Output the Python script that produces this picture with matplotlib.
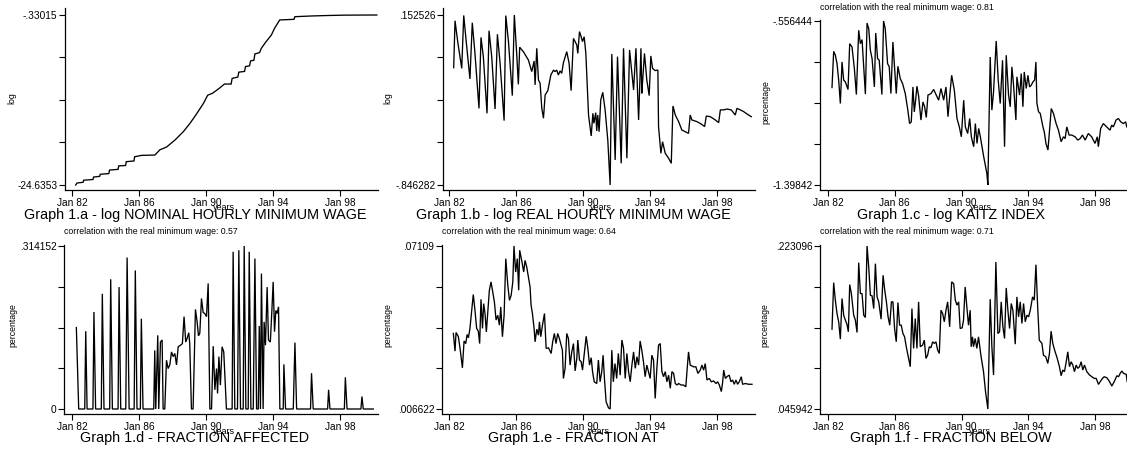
import numpy as np
import matplotlib
matplotlib.use("Agg")
import matplotlib.pyplot as plt

plt.rcParams['font.family'] = ['Liberation Sans', 'DejaVu Sans']

# ---------------- data ----------------
a_years = [1982.22, 1982.30, 1982.66, 1982.70, 1983.25, 1983.29, 1983.65, 1983.69, 1984.20, 1984.24,
           1984.75, 1984.79, 1985.20, 1985.24, 1985.70, 1985.74, 1986.15, 1986.95, 1987.25, 1987.65,
           1988.15, 1988.65, 1989.05, 1989.40, 1989.85, 1990.10, 1990.40, 1990.80, 1991.10, 1991.50,
           1991.56, 1991.90, 1991.96, 1992.30, 1992.36, 1992.60, 1992.66, 1992.86, 1992.92, 1993.20,
           1993.30, 1993.60, 1993.90, 1994.10, 1994.40, 1995.25, 1995.31, 1996.30, 1997.30, 1998.30, 2000.20]
a_vals = [-24.6353, -24.35, -24.25, -23.95, -23.85, -23.5, -23.4, -23.1, -23.0, -22.5,
          -22.4, -21.9, -21.85, -21.3, -21.2, -20.6, -20.4, -20.35, -19.6, -19.2,
          -18.2, -17.0, -15.8, -14.6, -12.96, -11.8, -11.5, -10.8, -10.2, -10.2,
          -9.4, -9.2, -8.5, -8.4, -7.7, -7.6, -6.9, -6.8, -5.9, -5.7,
          -5.1, -4.1, -3.2, -2.2, -1.04, -0.95, -0.57, -0.47, -0.40, -0.35, -0.33015]

b_years = [1982.28, 1982.36, 1982.52, 1982.76, 1982.88, 1983.00, 1983.25, 1983.39, 1983.55, 1983.79,
           1983.91, 1984.05, 1984.27, 1984.39, 1984.55, 1984.75, 1984.89, 1985.05, 1985.29, 1985.39,
           1985.55, 1985.78, 1985.90, 1986.04, 1986.14, 1986.22, 1986.44, 1986.74, 1986.94, 1987.08,
           1987.14, 1987.24, 1987.34, 1987.44, 1987.54, 1987.64, 1987.74, 1987.90, 1988.08, 1988.24,
           1988.33, 1988.43, 1988.53, 1988.63, 1988.73, 1988.83, 1989.03, 1989.17, 1989.29, 1989.43,
           1989.53, 1989.63, 1989.69, 1989.79, 1989.89, 1989.97, 1990.07, 1990.17, 1990.33, 1990.49,
           1990.59, 1990.65, 1990.76, 1990.82, 1990.88, 1990.96, 1991.06, 1991.18, 1991.32, 1991.48,
           1991.62, 1991.72, 1991.92, 1992.06, 1992.28, 1992.42, 1992.62, 1992.78, 1993.02, 1993.16,
           1993.32, 1993.46, 1993.51, 1993.57, 1993.67, 1993.81, 1993.95, 1994.05, 1994.15, 1994.31,
           1994.47, 1994.51, 1994.65, 1994.75, 1994.91, 1995.11, 1995.27, 1995.37, 1995.51, 1995.71,
           1995.90, 1996.10, 1996.30, 1996.40, 1996.50, 1996.80, 1997.06, 1997.26, 1997.36, 1997.60,
           1997.90, 1998.10, 1998.20, 1998.40, 1998.59, 1998.85, 1999.09, 1999.19, 1999.39, 1999.59,
           1999.79, 2000.05]
b_vals = [-0.157, 0.119, -0.004, -0.161, 0.150, 0.025, -0.223, 0.107, -0.073, -0.396,
          0.021, -0.092, -0.425, 0.060, -0.092, -0.400, 0.039, -0.131, -0.468, 0.149,
          -0.004, -0.321, 0.152526, -0.073, -0.255, -0.037, -0.063, -0.112, -0.180, -0.118,
          -0.258, -0.043, -0.229, -0.249, -0.396, -0.454, -0.317, -0.292, -0.200, -0.171,
          -0.180, -0.171, -0.200, -0.176, -0.190, -0.128, -0.063, -0.131, -0.292, 0.015,
          -0.004, -0.024, -0.073, 0.055, 0.025, -0.004, 0.025, -0.073, -0.435, -0.558,
          -0.425, -0.484, -0.421, -0.529, -0.435, -0.533, -0.347, -0.302, -0.405, -0.582,
          -0.846282, -0.077, -0.699, -0.092, -0.719, -0.043, -0.689, -0.053, -0.288, -0.043,
          -0.464, -0.043, -0.308, -0.219, -0.073, -0.229, -0.321, -0.088, -0.161, -0.174,
          -0.171, -0.503, -0.660, -0.592, -0.660, -0.689, -0.719, -0.382, -0.435, -0.474,
          -0.523, -0.533, -0.543, -0.435, -0.464, -0.474, -0.488, -0.503, -0.441, -0.445,
          -0.464, -0.480, -0.405, -0.405, -0.400, -0.405, -0.435, -0.396, -0.405, -0.415,
          -0.429, -0.445]

c_years = [1982.24, 1982.34, 1982.44, 1982.54, 1982.64, 1982.74, 1982.84, 1982.94, 1983.04, 1983.20,
           1983.30, 1983.44, 1983.58, 1983.70, 1983.84, 1983.94, 1984.04, 1984.14, 1984.24, 1984.34,
           1984.44, 1984.54, 1984.64, 1984.78, 1984.86, 1984.97, 1985.07, 1985.23, 1985.33, 1985.43,
           1985.57, 1985.67, 1985.77, 1985.89, 1985.97, 1986.09, 1986.19, 1986.33, 1986.47, 1986.63,
           1986.77, 1986.89, 1986.99, 1987.09, 1987.17, 1987.25, 1987.33, 1987.43, 1987.57, 1987.69,
           1987.79, 1987.89, 1987.99, 1988.17, 1988.33, 1988.49, 1988.63, 1988.77, 1988.93, 1989.07,
           1989.19, 1989.29, 1989.41, 1989.57, 1989.73, 1989.87, 1989.99, 1990.13, 1990.23, 1990.37,
           1990.49, 1990.59, 1990.73, 1990.83, 1990.93, 1991.03, 1991.13, 1991.33, 1991.52, 1991.58,
           1991.72, 1991.82, 1991.92, 1992.08, 1992.20, 1992.32, 1992.46, 1992.58, 1992.68, 1992.82,
           1992.92, 1993.02, 1993.12, 1993.26, 1993.32, 1993.48, 1993.58, 1993.68, 1993.76, 1993.88,
           1993.98, 1994.08, 1994.18, 1994.28, 1994.38, 1994.46, 1994.52, 1994.62, 1994.72, 1994.88,
           1994.96, 1995.06, 1995.18, 1995.28, 1995.38, 1995.51, 1995.67, 1995.81, 1995.97, 1996.11,
           1996.21, 1996.31, 1996.45, 1996.61, 1996.81, 1996.97, 1997.11, 1997.25, 1997.41, 1997.60,
           1997.80, 1998.00, 1998.14, 1998.20, 1998.34, 1998.50, 1998.70, 1998.90, 1999.00, 1999.10,
           1999.26, 1999.40, 1999.54, 1999.70, 1999.84, 1999.90]
c_vals = [-0.898, -0.712, -0.732, -0.775, -0.860, -0.980, -0.767, -0.860, -0.869, -0.908,
          -0.673, -0.690, -0.801, -0.934, -0.604, -0.673, -0.652, -0.792, -0.932, -0.567,
          -0.596, -0.707, -0.749, -0.895, -0.618, -0.749, -0.758, -0.934, -0.556444, -0.596,
          -0.775, -0.792, -0.929, -0.664, -0.767, -0.929, -0.789, -0.852, -0.878, -0.929,
          -1.006, -1.083, -1.074, -0.895, -1.023, -0.963, -0.891, -0.942, -1.065, -0.972,
          -0.997, -1.052, -0.937, -0.929, -0.908, -0.937, -0.963, -0.903, -0.963, -0.895,
          -1.048, -0.946, -0.835, -0.912, -1.057, -1.100, -1.151, -0.963, -1.100, -1.134,
          -1.057, -1.151, -1.202, -1.083, -1.185, -1.108, -1.151, -1.253, -1.339, -1.39842,
          -0.741, -1.014, -0.920, -0.659, -0.860, -0.980, -0.758, -1.202, -0.732, -0.937,
          -0.997, -0.792, -0.886, -1.065, -0.843, -0.937, -0.826, -0.997, -0.818, -0.903,
          -0.835, -0.895, -0.886, -0.869, -0.860, -0.767, -0.980, -1.023, -1.031, -1.100,
          -1.125, -1.185, -1.219, -1.113, -1.006, -1.031, -1.083, -1.117, -1.176, -1.151,
          -1.160, -1.100, -1.142, -1.142, -1.151, -1.168, -1.160, -1.142, -1.168, -1.134,
          -1.151, -1.185, -1.151, -1.202, -1.108, -1.083, -1.100, -1.117, -1.091, -1.100,
          -1.065, -1.057, -1.074, -1.083, -1.074, -1.100]

d_years = [1982.26, 1982.40, 1982.76, 1982.82, 1982.90, 1983.25, 1983.31, 1983.41, 1983.75, 1983.81,
           1983.91, 1984.25, 1984.31, 1984.41, 1984.75, 1984.81, 1984.91, 1985.21, 1985.29, 1985.41,
           1985.71, 1985.78, 1985.88, 1986.08, 1986.14, 1986.24, 1986.88, 1986.94, 1987.00, 1987.12,
           1987.18, 1987.28, 1987.38, 1987.44, 1987.54, 1987.64, 1987.74, 1987.84, 1987.94, 1988.04,
           1988.14, 1988.24, 1988.34, 1988.48, 1988.59, 1988.69, 1988.79, 1988.87, 1988.97, 1989.03,
           1989.13, 1989.23, 1989.37, 1989.47, 1989.55, 1989.63, 1989.73, 1989.83, 1989.93, 1990.03,
           1990.13, 1990.23, 1990.33, 1990.43, 1990.53, 1990.63, 1990.69, 1990.77, 1990.86, 1990.96,
           1991.06, 1991.22, 1991.56, 1991.62, 1991.72, 1991.88, 1991.96, 1992.06, 1992.22, 1992.28,
           1992.38, 1992.52, 1992.58, 1992.68, 1992.82, 1992.92, 1993.02, 1993.12, 1993.18, 1993.25,
           1993.31, 1993.41, 1993.47, 1993.55, 1993.65, 1993.73, 1993.84, 1993.92, 1994.01, 1994.09,
           1994.17, 1994.25, 1994.33, 1994.41, 1994.61, 1994.65, 1994.75, 1995.21, 1995.31, 1995.41,
           1996.24, 1996.30, 1996.40, 1997.26, 1997.32, 1997.40, 1998.26, 1998.32, 1998.42, 1999.25,
           1999.31, 1999.39, 1999.99]
d_vals = [0.157, 0, 0, 0.150, 0, 0, 0.187, 0, 0, 0.222,
          0, 0, 0.250, 0, 0, 0.235, 0, 0, 0.292, 0,
          0, 0.267, 0, 0, 0.174, 0, 0, 0.113, 0, 0.142,
          0, 0.129, 0.133, 0, 0, 0.094, 0.078, 0.085, 0.110, 0.101,
          0.107, 0.085, 0.120, 0.123, 0.126, 0.178, 0.129, 0.136, 0.147, 0.126,
          0, 0, 0.192, 0.168, 0.141, 0.146, 0.213, 0.186, 0.184, 0.178,
          0.242, 0, 0, 0.121, 0.037, 0.078, 0.030, 0.101, 0.046, 0.120,
          0.110, 0, 0, 0.303, 0, 0, 0.306, 0, 0, 0.314152,
          0, 0, 0.303, 0, 0, 0.290, 0, 0, 0.160, 0,
          0.261, 0, 0.168, 0.123, 0.235, 0.133, 0.129, 0.181, 0.245, 0.149,
          0.190, 0.184, 0.197, 0, 0, 0.086, 0, 0, 0.128, 0,
          0, 0.069, 0, 0, 0.037, 0, 0, 0.061, 0, 0,
          0.024, 0, 0]

e_years = [1982.26, 1982.36, 1982.42, 1982.56, 1982.66, 1982.80, 1982.90, 1983.00, 1983.08, 1983.16,
           1983.25, 1983.35, 1983.45, 1983.55, 1983.65, 1983.75, 1983.83, 1983.91, 1984.00, 1984.07,
           1984.15, 1984.23, 1984.33, 1984.41, 1984.51, 1984.61, 1984.71, 1984.81, 1984.91, 1985.01,
           1985.09, 1985.19, 1985.29, 1985.39, 1985.51, 1985.61, 1985.71, 1985.81, 1985.88, 1985.98,
           1986.08, 1986.16, 1986.22, 1986.34, 1986.46, 1986.54, 1986.64, 1986.74, 1986.84, 1986.90,
           1986.98, 1987.08, 1987.14, 1987.24, 1987.34, 1987.40, 1987.48, 1987.58, 1987.70, 1987.80,
           1987.94, 1988.10, 1988.19, 1988.29, 1988.39, 1988.49, 1988.59, 1988.67, 1988.77, 1988.83,
           1988.93, 1989.03, 1989.13, 1989.23, 1989.33, 1989.43, 1989.53, 1989.63, 1989.69, 1989.79,
           1989.89, 1989.97, 1990.09, 1990.19, 1990.29, 1990.39, 1990.49, 1990.57, 1990.67, 1990.82,
           1990.92, 1991.02, 1991.12, 1991.20, 1991.28, 1991.38, 1991.52, 1991.62, 1991.72, 1991.81,
           1991.91, 1992.01, 1992.11, 1992.22, 1992.32, 1992.42, 1992.52, 1992.62, 1992.72, 1992.82,
           1992.92, 1993.02, 1993.12, 1993.22, 1993.32, 1993.41, 1993.51, 1993.61, 1993.71, 1993.81,
           1993.91, 1994.01, 1994.11, 1994.21, 1994.31, 1994.41, 1994.51, 1994.61, 1994.71, 1994.81,
           1994.91, 1995.01, 1995.11, 1995.21, 1995.31, 1995.41, 1995.51, 1995.61, 1995.71, 1995.86,
           1996.00, 1996.14, 1996.22, 1996.30, 1996.40, 1996.60, 1996.74, 1996.86, 1997.00, 1997.10,
           1997.20, 1997.30, 1997.40, 1997.54, 1997.66, 1997.80, 1997.94, 1998.04, 1998.14, 1998.26,
           1998.34, 1998.40, 1998.50, 1998.59, 1998.73, 1998.83, 1998.93, 1999.03, 1999.13, 1999.23,
           1999.33, 1999.45, 1999.53, 1999.69, 1999.89, 2000.09]
e_vals = [0.0365, 0.0295, 0.0369, 0.0352, 0.0306, 0.0229, 0.0335, 0.0325, 0.0361, 0.0348,
          0.0385, 0.0450, 0.0519, 0.0457, 0.0385, 0.0374, 0.0325, 0.0500, 0.0385, 0.0483,
          0.0444, 0.0371, 0.0464, 0.0536, 0.0569, 0.0529, 0.0490, 0.0418, 0.0437, 0.0398,
          0.0470, 0.0352, 0.0437, 0.0661, 0.0556, 0.0496, 0.0516, 0.0569, 0.07109, 0.0608,
          0.0661, 0.0536, 0.0694, 0.0654, 0.0608, 0.0654, 0.0628, 0.0589, 0.0549, 0.0477,
          0.0444, 0.0385, 0.0332, 0.0382, 0.0358, 0.0411, 0.0352, 0.0398, 0.0444, 0.0306,
          0.0308, 0.0286, 0.0332, 0.0365, 0.0325, 0.0365, 0.0345, 0.0325, 0.0299, 0.0187,
          0.0227, 0.0365, 0.0345, 0.0240, 0.0292, 0.0325, 0.0217, 0.0266, 0.0339, 0.0260,
          0.0253, 0.0220, 0.0292, 0.0354, 0.0306, 0.0240, 0.0269, 0.0214, 0.0174, 0.0167,
          0.0260, 0.0174, 0.0214, 0.0279, 0.0187, 0.0095, 0.0071, 0.006622, 0.0299, 0.0174,
          0.0246, 0.0187, 0.0286, 0.0200, 0.0339, 0.0306, 0.0187, 0.0286, 0.0214, 0.0174,
          0.0240, 0.0292, 0.0227, 0.0273, 0.0240, 0.0335, 0.0299, 0.0253, 0.0194, 0.0240,
          0.0214, 0.0187, 0.0279, 0.0260, 0.0108, 0.0227, 0.0319, 0.0325, 0.0214, 0.0194,
          0.0214, 0.0174, 0.0200, 0.0148, 0.0214, 0.0207, 0.0167, 0.0161, 0.0167, 0.0161,
          0.0161, 0.0154, 0.0227, 0.0292, 0.0240, 0.0233, 0.0233, 0.0207, 0.0220, 0.0240,
          0.0220, 0.0246, 0.0181, 0.0187, 0.0174, 0.0177, 0.0167, 0.0174, 0.0161, 0.0135,
          0.0174, 0.0220, 0.0187, 0.0194, 0.0200, 0.0174, 0.0181, 0.0164, 0.0181, 0.0164,
          0.0174, 0.0194, 0.0164, 0.0167, 0.0164, 0.0164]

f_years = [1982.24, 1982.34, 1982.44, 1982.54, 1982.64, 1982.74, 1982.84, 1982.94, 1983.04, 1983.14,
           1983.22, 1983.30, 1983.40, 1983.54, 1983.64, 1983.74, 1983.84, 1983.94, 1984.04, 1984.14,
           1984.24, 1984.34, 1984.44, 1984.54, 1984.64, 1984.74, 1984.84, 1984.94, 1985.04, 1985.18,
           1985.30, 1985.40, 1985.50, 1985.60, 1985.70, 1985.80, 1985.89, 1985.99, 1986.09, 1986.19,
           1986.29, 1986.39, 1986.49, 1986.59, 1986.69, 1986.83, 1986.93, 1987.03, 1987.13, 1987.23,
           1987.33, 1987.43, 1987.53, 1987.67, 1987.77, 1987.87, 1987.97, 1988.07, 1988.17, 1988.27,
           1988.37, 1988.47, 1988.57, 1988.67, 1988.77, 1988.87, 1988.97, 1989.07, 1989.17, 1989.29,
           1989.41, 1989.53, 1989.63, 1989.73, 1989.83, 1989.92, 1990.04, 1990.12, 1990.22, 1990.32,
           1990.42, 1990.52, 1990.58, 1990.66, 1990.72, 1990.82, 1990.92, 1991.02, 1991.16, 1991.32,
           1991.44, 1991.58, 1991.72, 1991.82, 1991.92, 1992.06, 1992.18, 1992.28, 1992.38, 1992.48,
           1992.58, 1992.68, 1992.78, 1992.88, 1992.98, 1993.08, 1993.22, 1993.32, 1993.42, 1993.52,
           1993.62, 1993.72, 1993.82, 1993.92, 1994.02, 1994.12, 1994.26, 1994.36, 1994.46, 1994.56,
           1994.66, 1994.82, 1994.91, 1995.05, 1995.17, 1995.27, 1995.37, 1995.47, 1995.61, 1995.71,
           1995.87, 1995.97, 1996.07, 1996.17, 1996.27, 1996.37, 1996.47, 1996.57, 1996.67, 1996.77,
           1996.87, 1996.97, 1997.07, 1997.17, 1997.27, 1997.37, 1997.51, 1997.67, 1997.81, 1997.95,
           1998.07, 1998.21, 1998.31, 1998.45, 1998.55, 1998.71, 1998.85, 1999.01, 1999.15, 1999.31,
           1999.41, 1999.51, 1999.61, 1999.71, 1999.87, 1999.93]
f_vals = [0.1327, 0.1833, 0.1642, 0.1497, 0.1407, 0.1219, 0.1660, 0.1479, 0.1425, 0.1378,
          0.1298, 0.1812, 0.1714, 0.1479, 0.1425, 0.1291, 0.2050, 0.1714, 0.1714, 0.1479,
          0.1454, 0.223096, 0.2003, 0.1696, 0.1689, 0.1551, 0.2039, 0.1678, 0.1624, 0.1436,
          0.1913, 0.1750, 0.1624, 0.1461, 0.1370, 0.1624, 0.1624, 0.1334, 0.1190, 0.1617,
          0.1370, 0.1370, 0.1280, 0.1244, 0.1136, 0.1009, 0.0919, 0.1551, 0.1118, 0.1443,
          0.1118, 0.1624, 0.1136, 0.1154, 0.1208, 0.1009, 0.1045, 0.1136, 0.1125, 0.1190,
          0.1172, 0.1190, 0.1100, 0.1063, 0.1533, 0.1497, 0.1407, 0.1533, 0.1624, 0.1353,
          0.1841, 0.1822, 0.1642, 0.1588, 0.1624, 0.1334, 0.1342, 0.1425, 0.1786, 0.1569,
          0.1370, 0.1533, 0.1136, 0.1244, 0.1136, 0.1226, 0.1118, 0.1244, 0.1045, 0.0864,
          0.0648, 0.045942, 0.1653, 0.1136, 0.0828, 0.2057, 0.1280, 0.1298, 0.1624, 0.1353,
          0.1226, 0.1775, 0.1533, 0.1334, 0.1606, 0.1533, 0.1164, 0.1678, 0.1461, 0.1624,
          0.1389, 0.1606, 0.1407, 0.1479, 0.1461, 0.1533, 0.1678, 0.1642, 0.2028, 0.1588,
          0.1208, 0.1172, 0.1045, 0.1027, 0.0955, 0.1063, 0.1305, 0.1172, 0.1081, 0.1027,
          0.0919, 0.0821, 0.0883, 0.0865, 0.0966, 0.1081, 0.0919, 0.0973, 0.0937, 0.0865,
          0.0937, 0.0901, 0.0919, 0.0973, 0.0883, 0.0937, 0.0865, 0.0829, 0.0810, 0.0792,
          0.0792, 0.0727, 0.0756, 0.0792, 0.0810, 0.0799, 0.0763, 0.0709, 0.0756, 0.0821,
          0.0810, 0.0847, 0.0872, 0.0847, 0.0836, 0.0756]

# axis labels (Stata shows min and max only)
a_ticks = [-24.6353, -0.33015]; a_ticklabels = ["-24.6353", "-.33015"]
b_ticks = [-0.846282, 0.152526]; b_ticklabels = ["-.846282", ".152526"]
c_ticks = [-1.39842, -0.556444]; c_ticklabels = ["-1.39842", "-.556444"]
d_ticks = [0.0, 0.314152]; d_ticklabels = ["0", ".314152"]
e_ticks = [0.006622, 0.07109]; e_ticklabels = [".006622", ".07109"]
f_ticks = [0.045942, 0.223096]; f_ticklabels = [".045942", ".223096"]

x_ticks = [1982, 1986, 1990, 1994, 1998]
x_ticklabels = ["Jan 82", "Jan 86", "Jan 90", "Jan 94", "Jan 98"]

titles = ["Graph 1.a - log NOMINAL HOURLY MINIMUM WAGE",
          "Graph 1.b - log REAL HOURLY MINIMUM WAGE",
          "Graph 1.c - log KAITZ INDEX",
          "Graph 1.d - FRACTION AFFECTED",
          "Graph 1.e - FRACTION AT",
          "Graph 1.f - FRACTION BELOW"]
ylabels = ["log", "log", "percentage", "percentage", "percentage", "percentage"]
subtitles = [None, None,
             "correlation with the real minimum wage: 0.81",
             "correlation with the real minimum wage: 0.57",
             "correlation with the real minimum wage: 0.64",
             "correlation with the real minimum wage: 0.71"]

# ---------------- layout (pixels) ----------------
W, H = 1127, 453
fig = plt.figure(figsize=(W / 100, H / 100), dpi=100)
fig.patch.set_facecolor("white")

# l, r, top, bottom of axes; pixel x of Jan82 / Jan98; pixel y of top/bottom y-tick
layout = [
    dict(l=65, r=378, t=8, b=190, j82=72, j98=340, tt=15, tb=185, ylx=12, yly=98, tx=195, ty=215, yx=224, yy=208, sy=None),
    dict(l=443, r=755, t=8, b=190, j82=449, j98=717, tt=15, tb=185, ylx=388, yly=98, tx=573, ty=215, yx=601, yy=208, sy=None),
    dict(l=820, r=1127, t=20, b=190, j82=828, j98=1095, tt=21, tb=185, ylx=766, yly=102, tx=951, ty=215, yx=981, yy=208, sy=8),
    dict(l=64, r=378, t=245, b=414, j82=72, j98=340, tt=246, tb=409, ylx=13, yly=325, tx=195, ty=438, yx=224, yy=431, sy=232),
    dict(l=442, r=755, t=245, b=414, j82=449, j98=717, tt=246, tb=409, ylx=388, yly=325, tx=573, ty=438, yx=599, yy=431, sy=232),
    dict(l=820, r=1127, t=245, b=414, j82=828, j98=1095, tt=246, tb=409, ylx=765, yly=325, tx=951, ty=438, yx=980, yy=431, sy=232),
]

series = [(a_years, a_vals, a_ticks, a_ticklabels),
          (b_years, b_vals, b_ticks, b_ticklabels),
          (c_years, c_vals, c_ticks, c_ticklabels),
          (d_years, d_vals, d_ticks, d_ticklabels),
          (e_years, e_vals, e_ticks, e_ticklabels),
          (f_years, f_vals, f_ticks, f_ticklabels)]

def fx(px):
    return px / W

def fy(py):
    return 1 - py / H

for i, (lay, (xs, ys, yt, ytl)) in enumerate(zip(layout, series)):
    ax = fig.add_axes([fx(lay['l']), fy(lay['b']), (lay['r'] - lay['l']) / W, (lay['b'] - lay['t']) / H])
    ax.plot(xs, ys, color='black', lw=0.95, solid_joinstyle='miter')
    xs_per_px = 16.0 / (lay['j98'] - lay['j82'])
    ax.set_xlim(1982 - (lay['j82'] - lay['l']) * xs_per_px, 1982 + (lay['r'] - lay['j82']) * xs_per_px)
    ys_per_px = (yt[1] - yt[0]) / (lay['tb'] - lay['tt'])
    ax.set_ylim(yt[0] - (lay['b'] - lay['tb']) * ys_per_px, yt[1] + (lay['tt'] - lay['t']) * ys_per_px)
    yticks = np.linspace(yt[0], yt[1], 5)
    ax.set_yticks(yticks)
    ax.set_yticklabels([ytl[0], "", "", "", ytl[1]])
    ax.set_xticks(x_ticks)
    ax.set_xticklabels(x_ticklabels)
    for s in ['top', 'right']:
        ax.spines[s].set_visible(False)
    for s in ['left', 'bottom']:
        ax.spines[s].set_linewidth(0.9)
    ax.tick_params(axis='both', direction='out', length=4, width=0.8, labelsize=7.3, pad=1.5, colors='black')
    ax.patch.set_alpha(0)
    fig.text(fx(lay['ylx']), fy(lay['yly']), ylabels[i], rotation=90, ha='center', va='center', fontsize=6.3)
    fig.text(fx(lay['yx']), fy(lay['yy']), "years", ha='center', va='center', fontsize=6.5)
    fig.text(fx(lay['tx']), fy(lay['ty']), titles[i], ha='center', va='center', fontsize=10.4)
    if subtitles[i]:
        fig.text(fx(lay['l']), fy(lay['sy']), subtitles[i], ha='left', va='center', fontsize=6.3)

fig.savefig("out.png", dpi=100, facecolor="white")
